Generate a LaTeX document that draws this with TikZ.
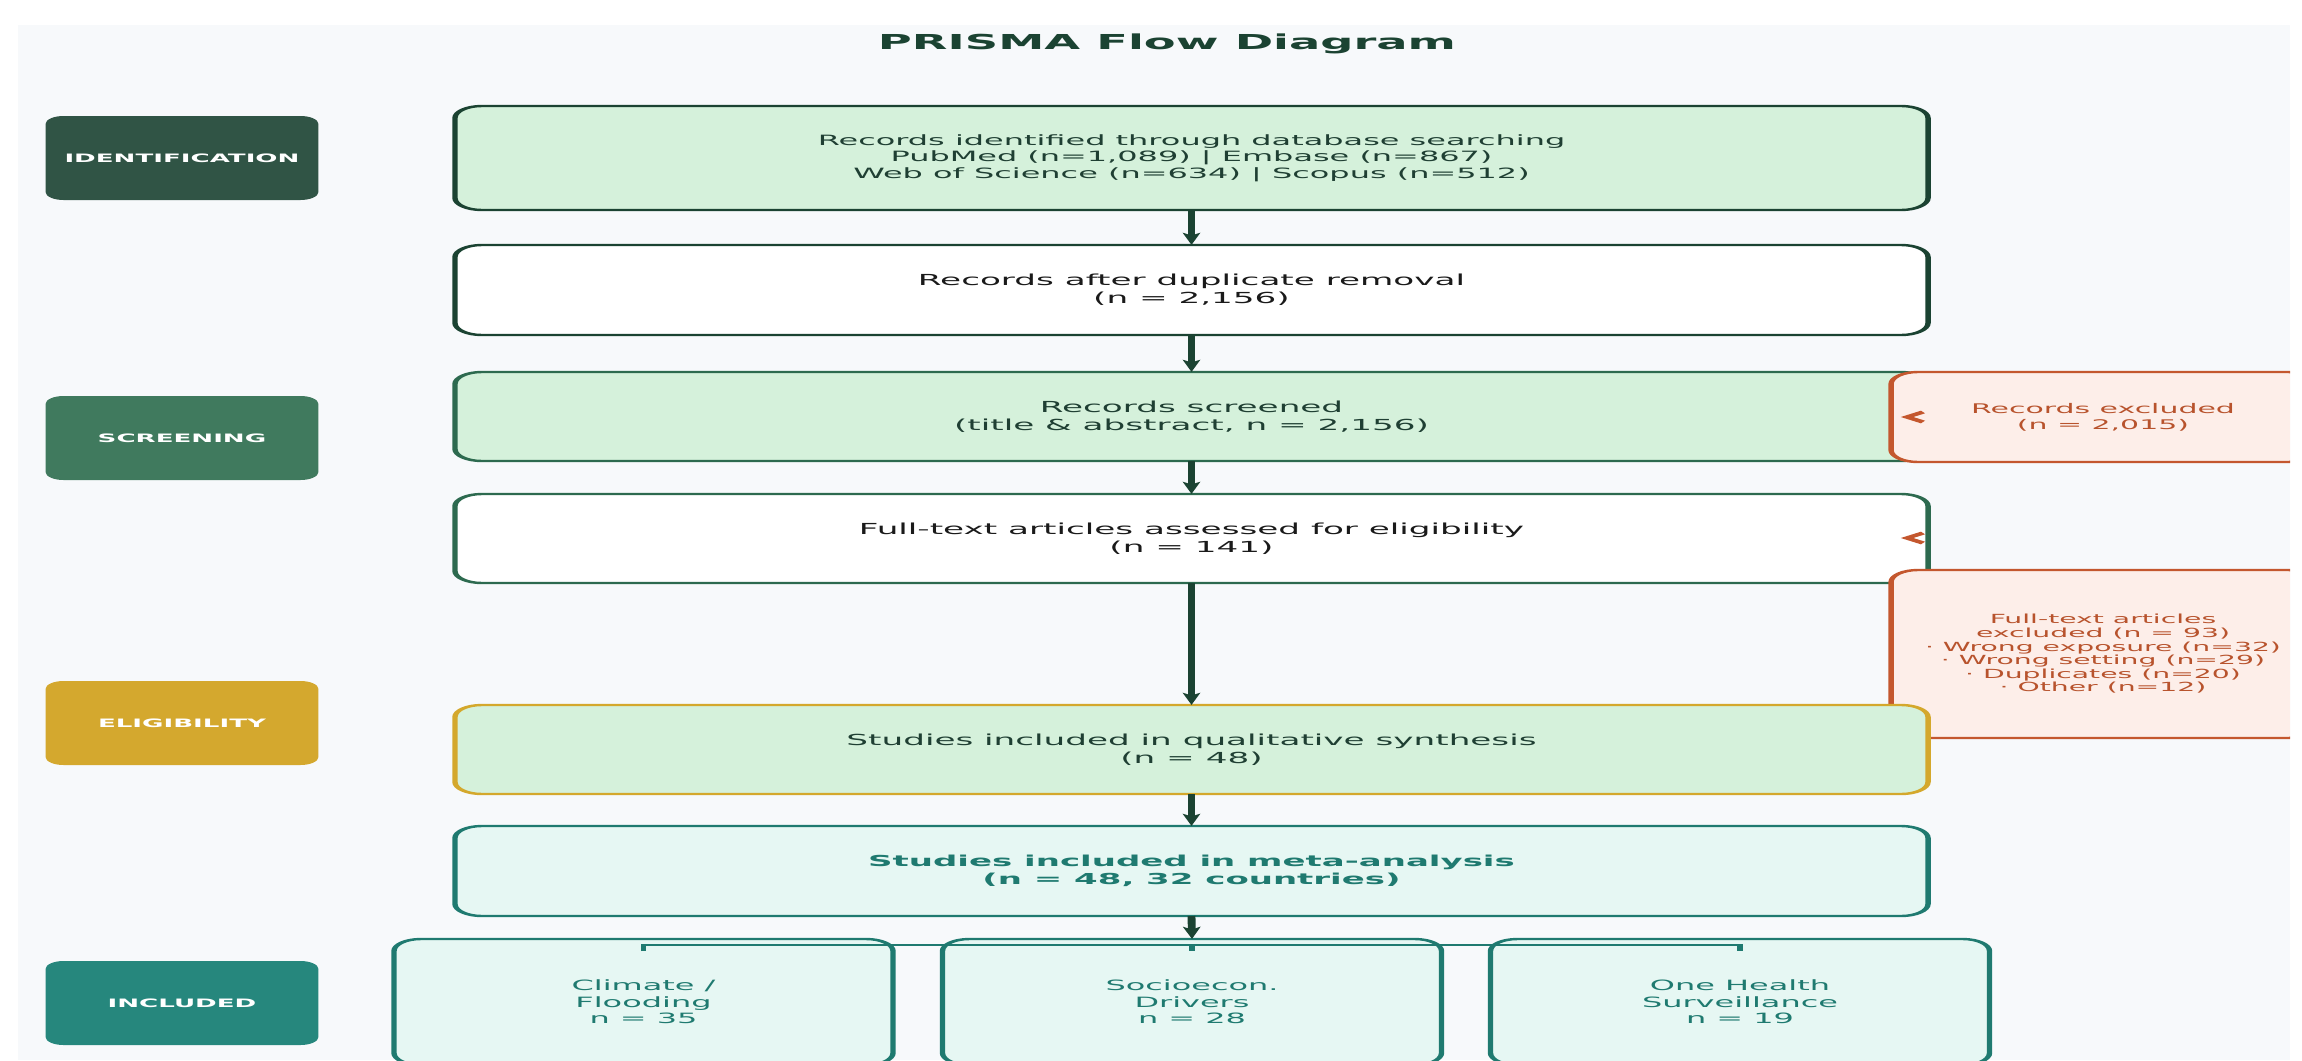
\documentclass[tikz,border=0pt]{standalone}
\usepackage{fontspec}
\setmainfont{DejaVu Sans}
\usetikzlibrary{arrows.meta,calc}
\definecolor{bgc}{HTML}{F7F9FB}
\definecolor{titlec}{HTML}{1B4332}
\definecolor{darkedge}{HTML}{1B4332}
\definecolor{midedge}{HTML}{2D6A4F}
\definecolor{goldc}{HTML}{D4A82C}
\definecolor{tealc}{HTML}{1F7A70}
\definecolor{exclc}{HTML}{C4572E}
\definecolor{excltext}{HTML}{B8532D}
\definecolor{fillgreen}{HTML}{D5F1DB}
\definecolor{fillmint}{HTML}{E6F7F3}
\definecolor{fillpeach}{HTML}{FDEEE9}
\definecolor{tgreen}{HTML}{1F3F33}
\definecolor{tblack}{HTML}{1A1A1A}
\definecolor{stageA}{HTML}{305445}
\definecolor{stageB}{HTML}{407A5E}
\definecolor{stageC}{HTML}{D4A82E}
\definecolor{stageD}{HTML}{26877D}
\tikzset{
  box/.style={draw, rounded corners=12pt, line width=2.4pt, inner sep=0pt, outer sep=0pt,
    align=center, minimum width=654.7pt},
  smallfont/.style={font=\fontsize{14.2}{16.5}\selectfont},
  mainfont/.style={font=\fontsize{15.2}{18}\selectfont},
  greenbox/.style={box, mainfont, fill=fillgreen, text=tgreen},
  whitebox/.style={box, mainfont, fill=white, text=tblack},
  stagebox/.style={rounded corners=8pt, inner sep=0pt, outer sep=0pt, minimum width=121.3pt,
    minimum height=84pt, text=white, font=\bfseries\fontsize{11.6}{14}\selectfont},
  exclbox/.style={draw=exclc, fill=fillpeach, text=excltext, rounded corners=12pt, line width=2.4pt,
    inner sep=0pt, outer sep=0pt, align=center, minimum width=188.4pt},
  catbox/.style={draw=tealc, fill=fillmint, text=tealc, rounded corners=12pt, line width=2.4pt,
    inner sep=0pt, outer sep=0pt, align=center, minimum width=221.8pt, minimum height=126pt,
    smallfont},
  arr/.style={draw=darkedge, line width=3.5pt, -{Stealth[length=12pt,width=7.5pt,inset=2.5pt]}},
  lefttip/.style={draw=exclc, line width=3.2pt, line cap=butt, line join=miter},
  brk/.style={draw=tealc, line width=2.6pt}
}
\begin{document}
\begin{tikzpicture}[x=1pt,y=-1pt]
\useasboundingbox (0,0) rectangle (2302,1060);
\fill[white] (0,0) rectangle (2302,1060);
\begin{scope}[transform canvas={xscale=2.25}, x=0.444444pt]
  \fill[bgc] (18,25) rectangle (2290,1060);
  \begin{scope}
    \clip (18,25) rectangle (2290,1060);
    % title
    \node[text=titlec, font=\bfseries\fontsize{20.6}{24}\selectfont] (title) at (1167,44) {PRISMA Flow Diagram};
    % stage labels
    \node[stagebox, fill=stageA] (sid) at (182,158) {IDENTIFICATION};
    \node[stagebox, fill=stageB] (ssc) at (182,438) {SCREENING};
    \node[stagebox, fill=stageC] (sel) at (182,723) {ELIGIBILITY};
    \node[stagebox, fill=stageD] (sin) at (182,1003) {INCLUDED};
    % main flow
    \node[greenbox, draw=darkedge, minimum height=104pt, smallfont] (b1) at (1191.5,158)
      {Records identified through database searching\\PubMed (n=1,089) | Embase (n=867)\\Web of Science (n=634) | Scopus (n=512)};
    \node[whitebox, draw=darkedge, minimum height=90pt] (b2) at (1191.5,290)
      {Records after duplicate removal\\(n = 2,156)};
    \node[greenbox, draw=midedge, minimum height=89pt] (b3) at (1191.5,416.5)
      {Records screened\\(title \& abstract, n = 2,156)};
    \node[exclbox, minimum height=90pt, font=\fontsize{13.3}{16}\selectfont] (e1) at (2103,417)
      {Records excluded\\(n = 2,015)};
    \coordinate (t1) at (1907,417);
    \draw[lefttip] ($(t1)+(16,-5)$) -- (t1) -- ($(t1)+(16,5)$);
    \node[whitebox, draw=midedge, minimum height=89pt] (b4) at (1191.5,538.5)
      {Full-text articles assessed for eligibility\\(n = 141)};
    \coordinate (t2) at (1907,538);
    \draw[lefttip] ($(t2)+(16,-5)$) -- (t2) -- ($(t2)+(16,5)$);
    \node[exclbox, minimum height=168pt, font=\fontsize{12.55}{13.6}\selectfont] (e2) at (2103,654)
      {Full-text articles\\excluded (n = 93)\\· Wrong exposure (n=32)\\· Wrong setting (n=29)\\· Duplicates (n=20)\\· Other (n=12)};
    \node[greenbox, draw=goldc, minimum height=89pt] (b5) at (1191.5,749.5)
      {Studies included in qualitative synthesis\\(n = 48)};
    \node[box, draw=tealc, fill=fillmint, text=tealc, minimum height=90pt,
      font=\bfseries\fontsize{15.1}{18}\selectfont] (b6) at (1191.5,871)
      {Studies included in meta-analysis\\(n = 48, 32 countries)};
    % categories
    \node[catbox] (c1) at (643.5,1002) {Climate /\\Flooding\\n = 35};
    \node[catbox] (c2) at (1192,1002) {Socioecon.\\Drivers\\n = 28};
    \node[catbox] (c3) at (1740,1002) {One Health\\Surveillance\\n = 19};
    % arrows
    \draw[arr] (b1.south) -- (b2.north);
    \draw[arr] (b2.south) -- (b3.north);
    \draw[arr] (b3.south) -- (b4.north);
    \draw[arr] (b4.south) -- (b5.north);
    \draw[arr] (b5.south) -- (b6.north);
    \draw[arr] (b6.south) -- (c2.north);
    % bracket
    \draw[brk] ($(c1.north)+(0,12)$) -- ++(0,-6) -| ($(c3.north)+(0,12)$);
    \draw[brk] ($(c2.north)+(0,6)$) -- ($(c2.north)+(0,12)$);
  \end{scope}
\end{scope}
\end{tikzpicture}
\end{document}
